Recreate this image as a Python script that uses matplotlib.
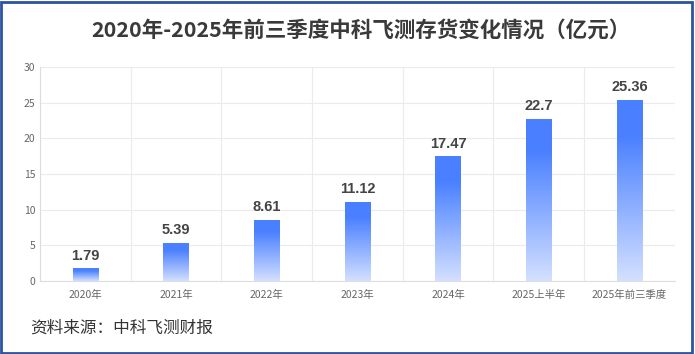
import numpy as np
import matplotlib.pyplot as plt
from matplotlib.colors import LinearSegmentedColormap
from matplotlib.patches import Rectangle

plt.rcParams['font.family'] = ['Noto Sans CJK SC', 'DejaVu Sans']

categories = ['2020年', '2021年', '2022年', '2023年', '2024年', '2025上半年', '2025年前三季度']
values = [1.79, 5.39, 8.61, 11.12, 17.47, 22.7, 25.36]
yticks = [0, 5, 10, 15, 20, 25, 30]

fig = plt.figure(figsize=(6.95, 3.54), dpi=100)
ax = fig.add_axes([0.0576, 0.206, 0.9134, 0.605])

x = np.arange(len(categories))
bars = ax.bar(x, values, width=0.28, color='none', zorder=2)

# vertical gradient per bar: solid blue near top, fading to pale at bottom
cmap = LinearSegmentedColormap.from_list(
    'fade', [(0, '#d3e0ff'), (0.8, '#4a80ff'), (1, '#4a80ff')])
grad = np.linspace(0, 1, 256).reshape(-1, 1)
for b in bars:
    x0, y0 = b.get_x(), b.get_y()
    w, h = b.get_width(), b.get_height()
    im = ax.imshow(grad, cmap=cmap, aspect='auto', origin='lower',
                   extent=[x0, x0 + w, y0, y0 + h], zorder=2)
    im.set_clip_path(b)

for xi, v in zip(x, values):
    ax.text(xi, v + 0.8, f'{v:g}', ha='center', va='bottom',
            fontsize=10.5, fontweight='bold', color='#444444', family=['Liberation Sans'])

ax.set_xlim(-0.5, len(categories) - 0.5)
ax.set_ylim(0, 30)
ax.set_yticks(yticks)
ax.set_xticks(x)
ax.set_xticklabels(categories)
ax.set_xticks(np.arange(-0.5, len(categories), 1), minor=True)
ax.grid(axis='y', color='#ebebeb', linewidth=0.8, zorder=0)
ax.grid(axis='x', which='minor', color='#ebebeb', linewidth=0.8, zorder=0)
ax.tick_params(axis='both', which='both', length=0, labelsize=7.5, colors='#666666')
ax.tick_params(axis='x', pad=6)
for s in ['top', 'right']:
    ax.spines[s].set_visible(False)
for s in ['left', 'bottom']:
    ax.spines[s].set_color('#dddddd')
    ax.spines[s].set_linewidth(0.8)

fig.text(0.52, 0.915, '2020年-2025年前三季度中科飞测存货变化情况（亿元）',
         ha='center', va='center', fontsize=15.5, fontweight='bold', color='#3a3a3a')
fig.text(0.043, 0.073, '资料来源：中科飞测财报', ha='left', va='center',
         fontsize=12, color='#333333')

fig.patches.append(Rectangle((0.002, 0.003), 0.994, 0.992, transform=fig.transFigure,
                             fill=False, edgecolor='#2d54a0', linewidth=2))

fig.savefig('out.png', dpi=100)
